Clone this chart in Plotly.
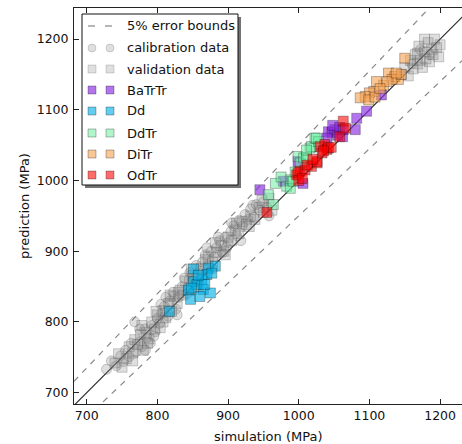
import plotly.graph_objects as go

# ---------------- data (simulation, prediction) in MPa ----------------
calib_sim = [728, 735, 742, 748, 752, 755, 760, 763, 768, 770, 775, 778, 782, 785, 790, 792, 797, 800, 803, 806,
             810, 815, 818, 822, 826, 830, 835, 838, 842, 846, 850, 855, 860, 864, 868, 872, 876, 880, 884, 888,
             892, 896, 900, 904, 908, 912, 916, 920, 924, 928, 932, 936, 940, 945, 950, 955,
             775, 783, 795, 805, 812, 828, 845, 852, 870, 878, 886, 898, 905, 918, 935, 958,
             1160, 1172, 1185]
calib_pred = [733, 745, 738, 752, 744, 760, 751, 770, 800, 758, 772, 765, 790, 778, 770, 795, 786, 805, 798, 812,
              822, 808, 830, 842, 818, 835, 850, 862, 840, 870, 858, 880, 872, 885, 895, 880, 900, 892, 905, 915,
              898, 920, 912, 928, 936, 922, 944, 935, 952, 945, 960, 948, 966, 958, 970, 962,
              790, 760, 780, 825, 835, 810, 860, 845, 905, 875, 920, 905, 940, 915, 965, 950,
              1165, 1185, 1178]

valid_sim = [740, 745, 750, 756, 760, 765, 768, 772, 776, 780, 784, 788, 792, 796, 800, 804, 808, 812, 816, 820,
             824, 828, 832, 836, 840, 845, 850, 856, 862, 866, 872, 878, 884, 890, 894, 900, 905, 910, 915, 920,
             926, 932, 938, 944, 950, 958,
             765, 778, 786, 798, 808, 818, 830, 848, 858, 868, 882, 896, 912, 930, 948, 962,
             1145, 1150, 1155, 1158, 1162, 1165, 1168, 1170, 1172, 1175, 1178, 1180, 1183, 1185, 1188, 1190,
             1192, 1195, 1198, 1200, 1178, 1168]
valid_pred = [742, 755, 736, 748, 765, 756, 775, 768, 782, 760, 785, 776, 800, 790, 810, 792, 816, 806, 826, 815,
              836, 826, 845, 838, 858, 848, 866, 862, 876, 868, 892, 885, 898, 908, 900, 920, 915, 930, 925, 942,
              938, 950, 945, 962, 955, 975,
              745, 795, 770, 815, 800, 838, 842, 875, 850, 888, 912, 895, 940, 935, 972, 958,
              1150, 1160, 1148, 1170, 1158, 1178, 1165, 1190, 1170, 1160, 1182, 1172, 1195, 1168, 1185, 1178,
              1200, 1188, 1175, 1192, 1200, 1180]

batrtr_sim = [945, 978, 1006, 999, 1042, 1047, 1051, 1055, 1048, 1058, 1062, 1080, 1082, 1096, 1117, 1040, 1063]
batrtr_pred = [987, 999, 996, 1027, 1069, 1068, 1072, 1064, 1078, 1075, 1062, 1072, 1088, 1098, 1121, 1060, 1072]

dd_sim = [817, 851, 844, 851, 863, 872, 870, 882, 865, 875, 847, 860, 856, 877, 867, 858, 848]
dd_pred = [815, 875, 845, 857, 860, 876, 867, 879, 846, 841, 832, 836, 853, 869, 853, 866, 848]

ddtr_sim = [957, 964, 967, 983, 988, 988, 992, 999, 1002, 1007, 1011, 1016, 1018, 1023, 1028, 1025, 975, 1011, 995]
ddtr_pred = [980, 966, 996, 992, 1001, 989, 999, 1034, 1025, 1032, 1032, 1046, 1048, 1060, 1055, 1060, 1005, 1043, 1012]

ditr_sim = [1150, 1127, 1136, 1141, 1132, 1120, 1110, 1106, 1100, 1094, 1087, 1099, 1108, 1145, 1125, 1115, 1138]
ditr_pred = [1173, 1152, 1147, 1143, 1143, 1135, 1140, 1126, 1124, 1119, 1117, 1114, 1118, 1150, 1140, 1130, 1152]

odtr_sim = [955, 997, 1002, 999, 1009, 1018, 1026, 1026, 1030, 1033, 1037, 1040, 1042, 1046, 1058, 1063, 1066,
            1000, 1012, 1020, 1035, 1005]
odtr_pred = [955, 1008, 1013, 1011, 1015, 1020, 1025, 1027, 1048, 1039, 1051, 1044, 1046, 1047, 1062, 1084, 1074,
             1000, 1022, 1030, 1042, 1003]

tick_vals = [700, 800, 900, 1000, 1100, 1200]
x_range = [682, 1231]
y_range = [684, 1244]
bound_x = [600, 1300]

FONT = "DejaVu Sans"
GRAY_FILL = "rgba(128,128,128,0.25)"
GRAY_EDGE = "rgba(90,90,90,0.3)"
EDGE = "rgba(0,0,0,0.35)"
series = [
    ("BaTrTr", batrtr_sim, batrtr_pred, "rgba(138,43,226,0.65)"),
    ("Dd", dd_sim, dd_pred, "rgba(0,176,230,0.62)"),
    ("DdTr", ddtr_sim, ddtr_pred, "rgba(100,235,155,0.5)"),
    ("DiTr", ditr_sim, ditr_pred, "rgba(245,160,80,0.6)"),
    ("OdTr", odtr_sim, odtr_pred, "rgba(255,0,0,0.58)"),
]

fig = go.Figure()

# reference lines
fig.add_trace(go.Scatter(x=bound_x, y=[1.05 * v for v in bound_x], mode="lines",
                         line=dict(color="#888", width=1.2, dash="6px,6px"), showlegend=False, hoverinfo="skip"))
fig.add_trace(go.Scatter(x=bound_x, y=[0.95 * v for v in bound_x], mode="lines",
                         line=dict(color="#888", width=1.2, dash="6px,6px"), showlegend=False, hoverinfo="skip"))
fig.add_trace(go.Scatter(x=bound_x, y=bound_x, mode="lines",
                         line=dict(color="#222", width=1.1), showlegend=False, hoverinfo="skip"))

fig.add_trace(go.Scatter(x=calib_sim, y=calib_pred, mode="markers", name="calibration data",
                         marker=dict(symbol="circle", size=10, color=GRAY_FILL, line=dict(color=GRAY_EDGE, width=1)),
                         showlegend=False))
fig.add_trace(go.Scatter(x=valid_sim, y=valid_pred, mode="markers", name="validation data",
                         marker=dict(symbol="square", size=10, color=GRAY_FILL, line=dict(color=GRAY_EDGE, width=1)),
                         showlegend=False))
for name, xs, ys, col in series:
    fig.add_trace(go.Scatter(x=xs, y=ys, mode="markers", name=name,
                             marker=dict(symbol="square", size=10, color=col, line=dict(color=EDGE, width=0.8)),
                             showlegend=False))

# ---------------- custom matplotlib-like legend ----------------
L, T, W, H = 74, 8, 388, 396


def px(x):
    return (x - L) / W


def py(y):
    return (T + H - y) / H


shapes = []
ann = []
# shadow + box
shapes.append(dict(type="rect", xref="paper", yref="paper", x0=px(85), x1=px(241), y0=py(17), y1=py(188),
                   fillcolor="rgba(0,0,0,0.55)", line=dict(width=0), layer="above"))
shapes.append(dict(type="rect", xref="paper", yref="paper", x0=px(82), x1=px(238), y0=py(14), y1=py(185),
                   fillcolor="white", line=dict(color="#111", width=1), layer="above"))
rows = [26, 48, 69, 90, 111, 133, 154, 175]
labels = ["5% error bounds", "calibration data", "validation data", "BaTrTr", "Dd", "DdTr", "DiTr", "OdTr"]
cols = [None, GRAY_FILL, GRAY_FILL] + [s[3] for s in series]
for i, (yy, lab) in enumerate(zip(rows, labels)):
    if i == 0:
        for a, b in [(88, 95), (105, 112)]:
            shapes.append(dict(type="line", xref="paper", yref="paper", x0=px(a), x1=px(b), y0=py(yy), y1=py(yy),
                               line=dict(color="#888", width=1.2), layer="above"))
    else:
        for cx in (92, 110):
            shapes.append(dict(type="circle" if i == 1 else "rect", xref="paper", yref="paper",
                               x0=px(cx - 4), x1=px(cx + 4), y0=py(yy - 4), y1=py(yy + 4),
                               fillcolor=cols[i], line=dict(color=GRAY_EDGE if i < 3 else EDGE, width=0.8),
                               layer="above"))
    ann.append(dict(xref="paper", yref="paper", x=px(125), y=py(yy), text=lab, showarrow=False,
                    xanchor="left", yanchor="middle", font=dict(family=FONT, size=13, color="#111")))

# axis titles
ann.append(dict(xref="paper", yref="paper", x=px(268), y=py(437), text="simulation (MPa)", showarrow=False,
                xanchor="center", yanchor="middle", font=dict(family=FONT, size=13, color="#111")))
ann.append(dict(xref="paper", yref="paper", x=px(24), y=py(206), text="prediction (MPa)", showarrow=False,
                textangle=-90, xanchor="center", yanchor="middle", font=dict(family=FONT, size=13, color="#111")))

fig.update_layout(
    width=462, height=444,
    margin=dict(l=L, r=0, t=T, b=444 - T - H),
    paper_bgcolor="white", plot_bgcolor="white",
    font=dict(family=FONT, color="#111"),
    shapes=shapes, annotations=ann,
    xaxis=dict(range=x_range, tickvals=tick_vals, ticks="inside", ticklen=5, tickcolor="#222",
               showline=True, linecolor="#222", linewidth=1, mirror="ticks", showgrid=False, zeroline=False,
               tickfont=dict(family=FONT, size=12.5, color="#111")),
    yaxis=dict(range=y_range, tickvals=tick_vals, ticks="inside", ticklen=5, tickcolor="#222",
               showline=True, linecolor="#222", linewidth=1, mirror=False, showgrid=False, zeroline=False,
               tickfont=dict(family=FONT, size=12.5, color="#111"), ticklabelstandoff=2),
    showlegend=False,
)

fig.write_html("out.html", config={"displayModeBar": False},
               post_script="document.body.style.margin='0';document.body.style.overflow='hidden';")
